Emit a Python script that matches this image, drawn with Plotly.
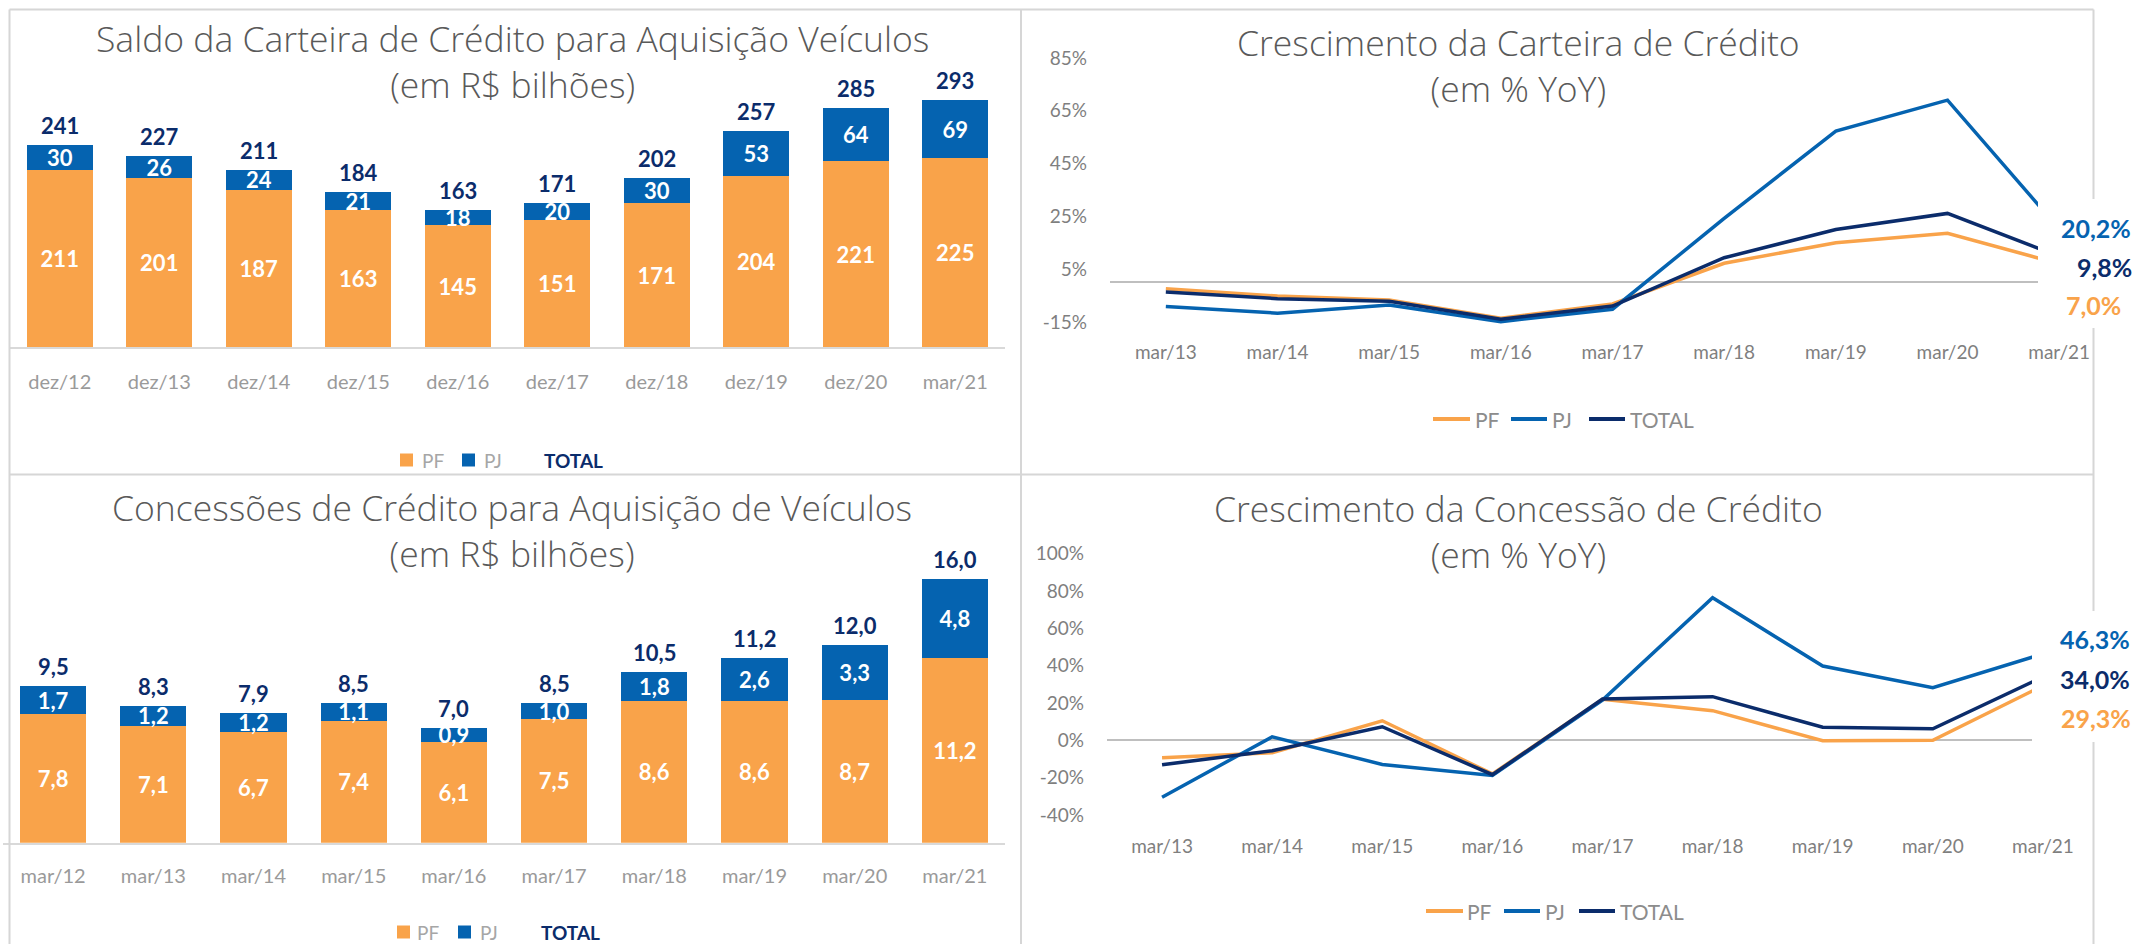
import plotly.graph_objects as go

# ---------------- data ----------------
saldo_cats = ["dez/12", "dez/13", "dez/14", "dez/15", "dez/16", "dez/17", "dez/18", "dez/19", "dez/20", "mar/21"]
saldo_pf = [211, 201, 187, 163, 145, 151, 171, 204, 221, 225]
saldo_pj = [30, 26, 24, 21, 18, 20, 30, 53, 64, 69]
saldo_total = [241, 227, 211, 184, 163, 171, 202, 257, 285, 293]

conc_cats = ["mar/12", "mar/13", "mar/14", "mar/15", "mar/16", "mar/17", "mar/18", "mar/19", "mar/20", "mar/21"]
conc_pf = [7.8, 7.1, 6.7, 7.4, 6.1, 7.5, 8.6, 8.6, 8.7, 11.2]
conc_pj = [1.7, 1.2, 1.2, 1.1, 0.9, 1.0, 1.8, 2.6, 3.3, 4.8]
conc_total = [9.5, 8.3, 7.9, 8.5, 7.0, 8.5, 10.5, 11.2, 12.0, 16.0]

growth_cats = ["mar/13", "mar/14", "mar/15", "mar/16", "mar/17", "mar/18", "mar/19", "mar/20", "mar/21"]
cart_pf = [-2.4, -5.2, -6.7, -13.6, -8.2, 7.2, 15.0, 18.6, 7.0]
cart_pj = [-9.2, -11.7, -8.6, -14.9, -10.2, 24.2, 57.3, 69.0, 20.2]
cart_total = [-3.7, -6.2, -7.2, -14.0, -9.0, 9.3, 20.0, 26.1, 9.8]

concg_pf = [-9.3, -6.6, 10.5, -18.0, 22.0, 15.9, -0.2, 0.0, 29.3]
concg_pj = [-30.5, 1.9, -12.9, -18.8, 21.6, 76.4, 39.8, 28.2, 46.3]
concg_total = [-13.1, -5.6, 7.3, -18.4, 22.1, 23.4, 7.0, 6.2, 34.0]

cart_ticks = [-15, 5, 25, 45, 65, 85]
concg_ticks = [-40, -20, 0, 20, 40, 60, 80, 100]

# ---------------- style ----------------
W, H = 2136, 944
ORANGE = "#F9A34A"
BLUE = "#0563B0"
NAVY = "#0B2C6B"
TITLE_GRAY = "#595959"
TICK_GRAY = "#7F7F7F"
XTICK_GRAY = "#9A9A9A"
BORDER = "#D6D6D6"
FONT = "Lato"
TFONT = "Open Sans"


def fx(p):
    return p / W


def fy(p):
    return 1 - p / H


def br(v):
    return f"{v:.1f}".replace(".", ",")


fig = go.Figure()

bar_text_font = dict(color="white", size=22, family=FONT, weight="bold")

# ---- chart 1: saldo (bars) ----
fig.add_trace(go.Bar(x=saldo_cats, y=saldo_pf, name="PF", marker_color=ORANGE,
                     text=[str(v) for v in saldo_pf], textposition="inside", insidetextanchor="middle",
                     textangle=0, textfont=bar_text_font, xaxis="x", yaxis="y", showlegend=False))
fig.add_trace(go.Bar(x=saldo_cats, y=saldo_pj, name="PJ", marker_color=BLUE,
                     text=[str(v) for v in saldo_pj], textposition="inside", insidetextanchor="middle",
                     textangle=0, textfont=bar_text_font, xaxis="x", yaxis="y", showlegend=False))

# ---- chart 3: concessoes (bars) ----
fig.add_trace(go.Bar(x=conc_cats, y=conc_pf, name="PF", marker_color=ORANGE,
                     text=[br(v) for v in conc_pf], textposition="inside", insidetextanchor="middle",
                     textangle=0, textfont=bar_text_font, xaxis="x3", yaxis="y3", showlegend=False))
fig.add_trace(go.Bar(x=conc_cats, y=conc_pj, name="PJ", marker_color=BLUE,
                     text=[br(v) for v in conc_pj], textposition="inside", insidetextanchor="middle",
                     textangle=0, textfont=bar_text_font, xaxis="x3", yaxis="y3", showlegend=False))

# ---- chart 2: crescimento carteira (lines) ----
for vals, col in [(cart_pf, ORANGE), (cart_pj, BLUE), (cart_total, NAVY)]:
    fig.add_trace(go.Scatter(x=growth_cats, y=vals, mode="lines", line=dict(color=col, width=3.5),
                             xaxis="x2", yaxis="y2", showlegend=False))

# ---- chart 4: crescimento concessao (lines) ----
for vals, col in [(concg_pf, ORANGE), (concg_pj, BLUE), (concg_total, NAVY)]:
    fig.add_trace(go.Scatter(x=growth_cats, y=vals, mode="lines", line=dict(color=col, width=3.5),
                             xaxis="x4", yaxis="y4", showlegend=False))

annotations = []
shapes = []

# total labels above stacked bars
for c, a, b, t in zip(saldo_cats, saldo_pf, saldo_pj, saldo_total):
    annotations.append(dict(x=c, y=a + b, xref="x", yref="y", text=str(t), showarrow=False,
                            yanchor="bottom", yshift=4,
                            font=dict(color=NAVY, size=22, family=FONT, weight="bold")))
for c, a, b, t in zip(conc_cats, conc_pf, conc_pj, conc_total):
    annotations.append(dict(x=c, y=a + b, xref="x3", yref="y3", text=br(t), showarrow=False,
                            yanchor="bottom", yshift=4,
                            font=dict(color=NAVY, size=22, family=FONT, weight="bold")))


# titles (two lines each)
def title(text, cx, cy, size=35.5):
    annotations.append(dict(x=fx(cx), y=fy(cy), xref="paper", yref="paper", text=text, showarrow=False,
                            xanchor="center", yanchor="middle", align="center",
                            font=dict(color=TITLE_GRAY, size=size, family=TFONT, weight=300)))


title("Saldo da Carteira de Crédito para Aquisição Veículos<br>(em R$ bilhões)", 512, 61)
title("Crescimento da Carteira de Crédito<br>(em % YoY)", 1518, 65)
title("Concessões de Crédito para Aquisição de Veículos<br>(em R$ bilhões)", 512, 530)
title("Crescimento da Concessão de Crédito<br>(em % YoY)", 1518, 531)


def ptext(text, x, y, color, size, weight="normal", xanchor="left"):
    annotations.append(dict(x=fx(x), y=fy(y), xref="paper", yref="paper", text=text, showarrow=False,
                            xanchor=xanchor, yanchor="middle",
                            font=dict(color=color, size=size, family=FONT, weight=weight)))


# panel borders
def pline(x0, y0, x1, y1, color=BORDER, width=2):
    shapes.append(dict(type="line", xref="paper", yref="paper", x0=fx(x0), y0=fy(y0), x1=fx(x1), y1=fy(y1),
                       line=dict(color=color, width=width), layer="above"))


pline(9.5, 9.5, 2093.5, 9.5)
pline(9.5, 474.5, 2093.5, 474.5)
pline(9.5, 9.5, 9.5, 944)
pline(1021, 9.5, 1021, 944)
pline(2093.5, 9.5, 2093.5, 944)


# white boxes behind the end labels
def wbox(x0, y0, x1, y1):
    shapes.append(dict(type="rect", xref="paper", yref="paper", x0=fx(x0), y0=fy(y0), x1=fx(x1), y1=fy(y1),
                       fillcolor="white", line=dict(width=0), layer="above"))


wbox(2038, 199, 2136, 328)
wbox(2032, 611, 2136, 742)

# end labels
ptext("<b>20,2%</b>", 2059, 228, BLUE, 25)
ptext("<b>9,8%</b>", 2075, 267, NAVY, 25)
ptext("<b>7,0%</b>", 2064, 305, ORANGE, 25)
ptext("<b>46,3%</b>", 2058, 639, BLUE, 25)
ptext("<b>34,0%</b>", 2058, 679, NAVY, 25)
ptext("<b>29,3%</b>", 2059, 718, ORANGE, 25)


# legends for bar charts
def sq(x0, cy, color):
    shapes.append(dict(type="rect", xref="paper", yref="paper", x0=fx(x0), y0=fy(cy + 6.5), x1=fx(x0 + 13),
                       y1=fy(cy - 6.5), fillcolor=color, line=dict(width=0)))


for cy, xs in [(460, (400, 420, 462, 482, 542)), (932, (397, 415, 458, 478, 539))]:
    sq(xs[0], cy, ORANGE)
    ptext("PF", xs[1], cy, "#A6A6A6", 19)
    sq(xs[2], cy, BLUE)
    ptext("PJ", xs[3], cy, "#A6A6A6", 19)
    ptext("<b>TOTAL</b>", xs[4], cy, NAVY, 19)


# legends for line charts
def seg(x0, x1, cy, color):
    shapes.append(dict(type="line", xref="paper", yref="paper", x0=fx(x0), y0=fy(cy), x1=fx(x1), y1=fy(cy),
                       line=dict(color=color, width=4)))


for cy, xs in [(419, (1433, 1470, 1473, 1511, 1547, 1550, 1589, 1625, 1628)),
               (911, (1426, 1463, 1465, 1504, 1540, 1543, 1579, 1615, 1618))]:
    seg(xs[0], xs[1], cy, ORANGE)
    ptext("PF", xs[2], cy, "#8C8C8C", 21)
    seg(xs[3], xs[4], cy, BLUE)
    ptext("PJ", xs[5], cy, "#8C8C8C", 21)
    seg(xs[6], xs[7], cy, NAVY)
    ptext("TOTAL", xs[8], cy, "#8C8C8C", 21)

bar_x = dict(type="category", showline=True, linecolor="#D9D9D9", linewidth=2, ticks="",
             tickfont=dict(size=20, color=XTICK_GRAY, family=FONT), ticklabelstandoff=16,
             showgrid=False, zeroline=False, fixedrange=True, automargin=False, range=[-0.5, 9.5])
bar_y = dict(visible=False, showgrid=False, zeroline=False, fixedrange=True, automargin=False)
line_x = dict(type="category", showline=False, ticks="", showgrid=False, zeroline=False,
              tickfont=dict(size=19, color=TICK_GRAY, family=FONT), ticklabelstandoff=1, fixedrange=True,
              automargin=False, range=[-0.5, 8.5])
line_y = dict(showgrid=False, showline=False, ticks="", zeroline=True, zerolinecolor="#BFBFBF", zerolinewidth=2,
              tickfont=dict(size=19, color=TICK_GRAY, family=FONT), ticklabelstandoff=22,
              fixedrange=True, automargin=False, tickmode="array")

fig.update_layout(
    template="none",
    width=W, height=H, margin=dict(l=0, r=0, t=0, b=0, pad=0), autosize=False,
    paper_bgcolor="white", plot_bgcolor="white",
    barmode="stack", bargap=0.34,
    uniformtext=dict(mode="show", minsize=22),
    font=dict(family=FONT),
    showlegend=False,
    xaxis=dict(bar_x, domain=[fx(10), fx(1005)], anchor="y"),
    yaxis=dict(bar_y, domain=[fy(347), fy(53)], range=[0, 350], anchor="x"),
    xaxis3=dict(bar_x, domain=[fx(3), fx(1005)], anchor="y3", ticklabelstandoff=14),
    yaxis3=dict(bar_y, domain=[fy(842.7), fy(554.7)], range=[0, 17.5], anchor="x3"),
    xaxis2=dict(line_x, domain=[fx(1110), fx(2115)], anchor="y2"),
    yaxis2=dict(line_y, domain=[fy(338), fy(50)], range=[-21.1, 88], tickvals=cart_ticks,
                ticktext=[f"{v}%" for v in cart_ticks], anchor="x2"),
    xaxis4=dict(line_x, domain=[fx(1107), fx(2098)], anchor="y4"),
    yaxis4=dict(line_y, domain=[fy(832), fy(544)], range=[-49.1, 105.2], tickvals=concg_ticks,
                ticktext=[f"{v}%" for v in concg_ticks], anchor="x4"),
    annotations=annotations,
    shapes=shapes,
    hovermode=False,
)

fig.write_html("out.html", config={"displayModeBar": False},
               post_script="document.body.style.margin='0px';document.body.style.overflow='hidden';")
